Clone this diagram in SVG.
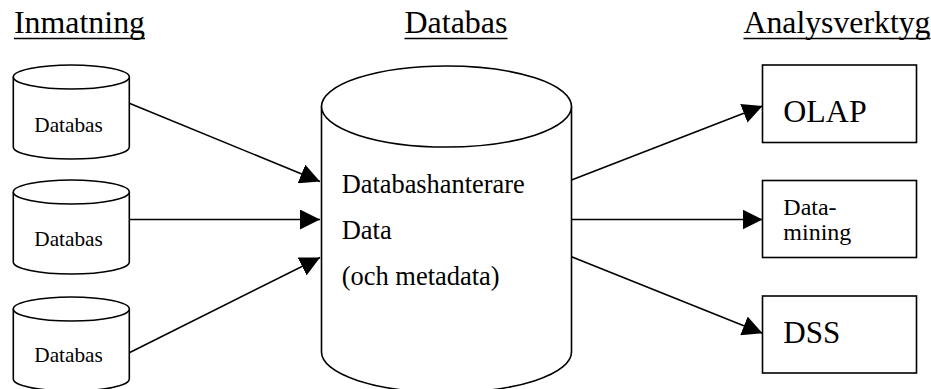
<svg xmlns="http://www.w3.org/2000/svg" width="931" height="389" viewBox="0 0 931 389">
  <style>
    .shape { fill: #ffffff; stroke: #000000; stroke-width: 1.6; }
    .edge { fill: none; stroke: #000000; stroke-width: 1.6; marker-end: url(#head); }
    .lbl { font-family: "Liberation Serif", "Times New Roman", serif; fill: #000000; }
    .title { font-size: 32px; }
    .small { font-size: 21px; }
    .mid { font-size: 26.5px; }
    .big { font-size: 32px; }
    .tool { font-size: 24px; }
    .rule { stroke: #000000; stroke-width: 1.7; }
  </style>
  <defs>
    <marker id="head" markerUnits="userSpaceOnUse" markerWidth="20" markerHeight="20" refX="20" refY="10" orient="auto">
      <path d="M0,0 L20,10 L0,20 Z" fill="#000000"/>
    </marker>
  </defs>
  <rect width="931" height="389" fill="#ffffff"/>

  <!-- column headings with underlines -->
  <g id="headings">
    <text class="lbl title" x="14" y="33" textLength="131" lengthAdjust="spacingAndGlyphs">Inmatning</text>
    <line class="rule" x1="14" y1="38.5" x2="145" y2="38.5"/>
    <text class="lbl title" x="404.5" y="33" textLength="103" lengthAdjust="spacingAndGlyphs">Databas</text>
    <line class="rule" x1="404.5" y1="38.5" x2="507.5" y2="38.5"/>
    <text class="lbl title" x="743.5" y="33" textLength="187" lengthAdjust="spacingAndGlyphs">Analysverktyg</text>
    <line class="rule" x1="743.5" y1="38.5" x2="930.5" y2="38.5"/>
  </g>

  <!-- input databases -->
  <g id="input-db-1">
    <path class="shape" d="M13.3,77 V147 A58,12 0 0 0 129.3,147 V77"/>
    <ellipse class="shape" cx="71.3" cy="77" rx="58" ry="12"/>
    <text class="lbl small" x="34.3" y="131.5" textLength="68.5" lengthAdjust="spacingAndGlyphs">Databas</text>
  </g>
  <g id="input-db-2">
    <path class="shape" d="M13.3,192 V262 A58,12 0 0 0 129.3,262 V192"/>
    <ellipse class="shape" cx="71.3" cy="192" rx="58" ry="12"/>
    <text class="lbl small" x="34.3" y="246" textLength="68.5" lengthAdjust="spacingAndGlyphs">Databas</text>
  </g>
  <g id="input-db-3">
    <path class="shape" d="M13.3,309 V379 A58,12 0 0 0 129.3,379 V309"/>
    <ellipse class="shape" cx="71.3" cy="309" rx="58" ry="12"/>
    <text class="lbl small" x="34.3" y="362" textLength="68.5" lengthAdjust="spacingAndGlyphs">Databas</text>
  </g>

  <!-- central database -->
  <g id="central-db">
    <path class="shape" d="M321.5,106.5 V352 A125,40.5 0 0 0 571.5,352 V106.5"/>
    <ellipse class="shape" cx="446.5" cy="106.5" rx="125" ry="40.5"/>
    <text class="lbl mid" x="341.7" y="193" textLength="183" lengthAdjust="spacingAndGlyphs">Databashanterare</text>
    <text class="lbl mid" x="341.7" y="238.5">Data</text>
    <text class="lbl mid" x="341.7" y="285" textLength="158" lengthAdjust="spacingAndGlyphs">(och metadata)</text>
  </g>

  <!-- analysis tools -->
  <g id="tool-olap">
    <rect class="shape" x="762.5" y="65" width="154" height="77.5"/>
    <text class="lbl big" x="783.3" y="121.7" textLength="83.4" lengthAdjust="spacingAndGlyphs">OLAP</text>
  </g>
  <g id="tool-datamining">
    <rect class="shape" x="762.5" y="180.5" width="154" height="77"/>
    <text class="lbl tool" x="783.3" y="214.5">Data-</text>
    <text class="lbl tool" x="783.3" y="240">mining</text>
  </g>
  <g id="tool-dss">
    <rect class="shape" x="762.5" y="296" width="154" height="77"/>
    <text class="lbl big" x="783.3" y="343.3" textLength="57" lengthAdjust="spacingAndGlyphs">DSS</text>
  </g>

  <!-- connectors -->
  <g id="connectors">
    <line class="edge" x1="129.3" y1="103.3" x2="320" y2="181.5"/>
    <line class="edge" x1="129.3" y1="219.5" x2="320" y2="219.5"/>
    <line class="edge" x1="129.3" y1="352.7" x2="320" y2="257.5"/>
    <line class="edge" x1="571.5" y1="180" x2="762.5" y2="106"/>
    <line class="edge" x1="571.5" y1="219.5" x2="762.5" y2="219.5"/>
    <line class="edge" x1="571.5" y1="256.7" x2="762.5" y2="333.3"/>
  </g>
</svg>
